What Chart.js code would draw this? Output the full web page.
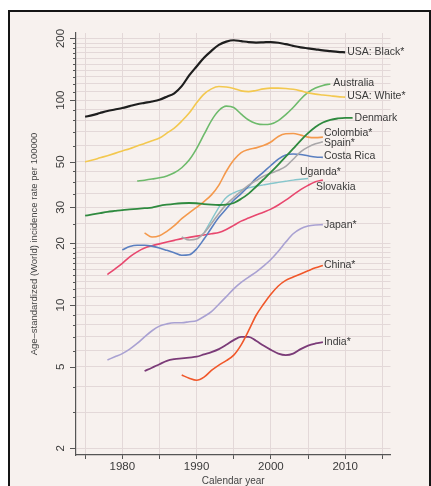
<!DOCTYPE html>
<html>
<head>
<meta charset="utf-8">
<script src="https://cdn.jsdelivr.net/npm/chart.js@4.4.1/dist/chart.umd.min.js"></script>
<style>
  html, body { margin: 0; padding: 0; background: #ffffff; }
  #frame {
    position: absolute; left: 8px; top: 10px;
    width: 423px; height: 476px; box-sizing: border-box;
    border: 2px solid #151515; border-bottom: none;
    background: #f7f1ee;
  }
  #chart { display: block; }
</style>
</head>
<body>
<div id="frame"><canvas id="chart" width="419" height="474"></canvas></div>
<script>
// Age-standardized (World) incidence rates per 100000, by calendar year
const yearsUsaBlack = [1975,1976,1977,1978,1979,1980,1981,1982,1983,1984,1985,1986,1987,1988,1989,1990,1991,1992,1993,1994,1995,1996,1997,1998,1999,2000,2001,2002,2003,2004,2005,2006,2007,2008,2009,2010];
const rateUsaBlack = [83,84.5,86.5,88.5,90,91.5,93.5,95.5,97,98.5,100.5,104,108,117,132,146,161,174,186,193,196,194,192,191,191.5,192,190.5,187.5,184,181,179,177,175,173.5,172,171];

const yearsUsaWhite = [1975,1976,1977,1978,1979,1980,1981,1982,1983,1984,1985,1986,1987,1988,1989,1990,1991,1992,1993,1994,1995,1996,1997,1998,1999,2000,2001,2002,2003,2004,2005,2006,2007,2008,2009,2010];
const rateUsaWhite = [50,51,52.3,53.6,55,56.5,58,59.8,61.5,63.3,65.3,69,73,79,86.5,97,107,113.5,116.5,116,114,111,110,111.5,113.5,114.5,114.5,114,113,111,108.5,107,106,105,104,103.5];

const yearsAustralia = [1982,1983,1984,1985,1986,1987,1988,1989,1990,1991,1992,1993,1994,1995,1996,1997,1998,1999,2000,2001,2002,2003,2004,2005,2006,2007,2008];
const rateAustralia = [40.3,40.7,41.2,41.8,42.7,44.2,46.8,51,58,68,79.5,89,93.5,92,85.5,80,77,76,76.5,79.5,85,92,101,109,114.5,118,120];

const yearsDenmark = [1975,1976,1977,1978,1979,1980,1981,1982,1983,1984,1985,1986,1987,1988,1989,1990,1991,1992,1993,1994,1995,1996,1997,1998,1999,2000,2001,2002,2003,2004,2005,2006,2007,2008,2009,2010,2011];
const rateDenmark = [27.3,27.7,28.1,28.5,28.8,29.1,29.3,29.5,29.7,29.9,30.5,30.9,31.2,31.4,31.5,31.4,31.1,30.9,30.8,30.9,31.5,33,35,37.8,41,44.5,48.5,53,58,63.5,69,74,77.8,80.2,81.4,82,82];

const yearsColombia = [1983,1984,1985,1986,1987,1988,1989,1990,1991,1992,1993,1994,1995,1996,1997,1998,1999,2000,2001,2002,2003,2004,2005,2006,2007];
const rateColombia = [22.5,21.5,21.8,22.9,24.4,26.4,28.2,30,32,34.5,38.5,45,51,55.5,57.5,58.5,60,62.5,66.5,68.5,68.7,67.5,66,65.6,66];

const yearsSpain = [1988,1989,1990,1991,1992,1993,1994,1995,1996,1997,1998,1999,2000,2001,2002,2003,2004,2005,2006,2007];
const rateSpain = [21.5,20.8,21,22.5,25,28,31,33.5,36,38.5,40.5,42.5,44,45.5,47.5,51.5,56,59,61.2,62.6];

const yearsCostaRica = [1980,1981,1982,1983,1984,1985,1986,1987,1988,1989,1990,1991,1992,1993,1994,1995,1996,1997,1998,1999,2000,2001,2002,2003,2004,2005,2006,2007];
const rateCostaRica = [18.6,19.3,19.6,19.6,19.4,19,18.5,18,17.5,17.6,18.8,21,23.8,26.8,29.5,32.5,35,38,41.5,44.6,48,51.5,54,54.6,54.3,53.5,52.8,52.6];

const yearsUganda = [1991,1992,1993,1994,1995,1996,1997,1998,1999,2000,2001,2002,2003,2004,2005];
const rateUganda = [22.5,26,30,33.5,35.3,36.5,37.3,38,38.6,39.2,39.7,40.2,40.7,41.1,41.5];

const yearsSlovakia = [1978,1979,1980,1981,1982,1983,1984,1985,1986,1987,1988,1989,1990,1991,1992,1993,1994,1995,1996,1997,1998,1999,2000,2001,2002,2003,2004,2005,2006,2007];
const rateSlovakia = [14.1,15,16,17.2,18.2,19,19.5,19.9,20.3,20.7,21.1,21.4,21.7,22,22.3,22.6,23.4,24.5,25.7,26.6,27.5,28.4,29.4,30.8,32.5,34.5,36.6,38.4,40,40.8];

const yearsJapan = [1978,1979,1980,1981,1982,1983,1984,1985,1986,1987,1988,1989,1990,1991,1992,1993,1994,1995,1996,1997,1998,1999,2000,2001,2002,2003,2004,2005,2006,2007];
const rateJapan = [5.4,5.6,5.8,6.1,6.5,7,7.5,7.9,8.1,8.2,8.2,8.3,8.4,8.8,9.3,10.1,11,12,12.9,13.7,14.5,15.5,16.7,18.3,20.3,22.3,23.6,24.3,24.6,24.7];

const yearsChina = [1988,1989,1990,1991,1992,1993,1994,1995,1996,1997,1998,1999,2000,2001,2002,2003,2004,2005,2006,2007];
const rateChina = [4.56,4.4,4.3,4.45,4.8,5.1,5.36,5.7,6.4,7.5,8.9,10.1,11.3,12.4,13.2,13.7,14.2,14.7,15.2,15.6];

const yearsIndia = [1983,1984,1985,1986,1987,1988,1989,1990,1991,1992,1993,1994,1995,1996,1997,1998,1999,2000,2001,2002,2003,2004,2005,2006,2007];
const rateIndia = [4.77,4.95,5.15,5.35,5.45,5.5,5.55,5.6,5.75,5.9,6.1,6.4,6.75,7,7,6.7,6.35,6.05,5.8,5.7,5.8,6.1,6.35,6.5,6.6];

// Axis ticks
const xTickValues = [1975,1980,1985,1990,1995,2000,2005,2010,2015];
const xTickLabels = [1980,1990,2000,2010];
const yTickValues = [2,3,4,5,6,7,8,9,10,11,12,13,14,15,16,17,18,19,20,25,30,35,40,45,50,60,70,80,90,100,110,120,130,140,150,160,170,180,190,200];
const yTickLabels = [2,5,10,20,30,50,100,200];

const series = [
  { name: 'USA: Black*', years: yearsUsaBlack, rates: rateUsaBlack, color: '#1e1e1e', width: 2.2, dx: 2, dy: 0 },
  { name: 'USA: White*', years: yearsUsaWhite, rates: rateUsaWhite, color: '#f3c84f', width: 1.6, dx: 2, dy: -1 },
  { name: 'Australia', years: yearsAustralia, rates: rateAustralia, color: '#6dba6b', width: 1.6, dx: 3, dy: -1 },
  { name: 'Denmark', years: yearsDenmark, rates: rateDenmark, color: '#2f8a3f', width: 1.8, dx: 2, dy: 0 },
  { name: 'Colombia*', years: yearsColombia, rates: rateColombia, color: '#f4994c', width: 1.6, dx: 1, dy: -4 },
  { name: 'Spain*', years: yearsSpain, rates: rateSpain, color: '#a9a7a9', width: 1.6, dx: 1, dy: 1 },
  { name: 'Costa Rica', years: yearsCostaRica, rates: rateCostaRica, color: '#5a7fc0', width: 1.6, dx: 1, dy: -1 },
  { name: 'Uganda*', years: yearsUganda, rates: rateUganda, color: '#86c6cc', width: 1.4, dx: -8, dy: -6.5 },
  { name: 'Slovakia', years: yearsSlovakia, rates: rateSlovakia, color: '#e8476e', width: 1.6, dx: -7, dy: 7 },
  { name: 'Japan*', years: yearsJapan, rates: rateJapan, color: '#a9a1d2', width: 1.6, dx: 1, dy: 0 },
  { name: 'China*', years: yearsChina, rates: rateChina, color: '#f0572a', width: 1.6, dx: 1, dy: 0 },
  { name: 'India*', years: yearsIndia, rates: rateIndia, color: '#7b3b78', width: 1.8, dx: 1, dy: 0 }
];

const FONT = "'Liberation Sans', Arial, sans-serif";
const GRID = '#e3d8d8';
const AXIS = '#555555';
const TEXT = '#3a3a3a';

// Y tick marks (longer at labelled values) and rotated tick labels
const yAxisDecor = {
  id: 'yAxisDecor',
  afterDraw(chart) {
    const { ctx } = chart;
    const y = chart.scales.y;
    const x0 = y.right;
    ctx.save();
    ctx.strokeStyle = AXIS;
    ctx.lineWidth = 1;
    yTickValues.forEach(v => {
      const py = Math.round(y.getPixelForValue(v)) + 0.5;
      const len = yTickLabels.includes(v) ? 6 : 3;
      ctx.beginPath();
      ctx.moveTo(x0 - len, py);
      ctx.lineTo(x0, py);
      ctx.stroke();
    });
    ctx.fillStyle = TEXT;
    ctx.font = '11.5px ' + FONT;
    ctx.textAlign = 'center';
    ctx.textBaseline = 'middle';
    yTickLabels.forEach(v => {
      const py = y.getPixelForValue(v);
      ctx.save();
      ctx.translate(x0 - 15.5, py);
      ctx.rotate(-Math.PI / 2);
      ctx.fillText(String(v), 0, 0);
      ctx.restore();
    });
    ctx.restore();
  }
};

// Series names at the end of each line
const endLabels = {
  id: 'endLabels',
  afterDatasetsDraw(chart) {
    const { ctx } = chart;
    ctx.save();
    ctx.font = '10.5px ' + FONT;
    ctx.fillStyle = TEXT;
    ctx.textAlign = 'left';
    ctx.textBaseline = 'middle';
    chart.data.datasets.forEach((ds, i) => {
      const meta = chart.getDatasetMeta(i);
      const last = meta.data[meta.data.length - 1];
      const s = series[i];
      ctx.fillText(s.name, last.x + s.dx, last.y + s.dy);
    });
    ctx.restore();
  }
};

new Chart(document.getElementById('chart'), {
  type: 'line',
  data: {
    datasets: series.map(s => ({
      label: s.name,
      data: s.years.map((yr, i) => ({ x: yr, y: s.rates[i] })),
      borderColor: s.color,
      borderWidth: s.width,
      pointRadius: 0,
      fill: false,
      cubicInterpolationMode: 'monotone'
    }))
  },
  options: {
    responsive: false,
    animation: false,
    devicePixelRatio: 1,
    layout: { padding: { top: 21, right: 38.5, bottom: 0, left: 0 } },
    plugins: { legend: { display: false }, tooltip: { enabled: false } },
    scales: {
      x: {
        type: 'linear',
        min: 1973.77,
        max: 2016.1,
        afterBuildTicks: scale => { scale.ticks = xTickValues.map(v => ({ value: v })); },
        afterFit: scale => { scale.height = 31; },
        ticks: {
          autoSkip: false,
          maxRotation: 0,
          padding: 1,
          color: TEXT,
          font: { family: FONT, size: 11.5 },
          callback: v => (xTickLabels.includes(v) ? String(v) : '')
        },
        grid: { color: GRID, lineWidth: 1, tickColor: AXIS, tickLength: 4, tickWidth: 1 },
        border: { color: AXIS, width: 1.2 },
        title: {
          display: true,
          text: 'Calendar year',
          color: '#444444',
          font: { family: FONT, size: 10, lineHeight: 1 },
          padding: { top: 0, bottom: 0 }
        }
      },
      y: {
        type: 'logarithmic',
        min: 1.857,
        max: 212.6,
        afterBuildTicks: scale => { scale.ticks = yTickValues.map(v => ({ value: v })); },
        afterFit: scale => { scale.width = 66; },
        ticks: { display: false },
        grid: { color: GRID, lineWidth: 1, drawTicks: false },
        border: { color: AXIS, width: 1.2 },
        title: {
          display: true,
          text: 'Age\u2013standardized (World) incidence rate per 100000',
          color: '#444444',
          font: { family: FONT, size: 9.5, lineHeight: 1 },
          padding: { top: 20, bottom: 0 }
        }
      }
    }
  },
  plugins: [yAxisDecor, endLabels]
});
</script>
</body>
</html>
